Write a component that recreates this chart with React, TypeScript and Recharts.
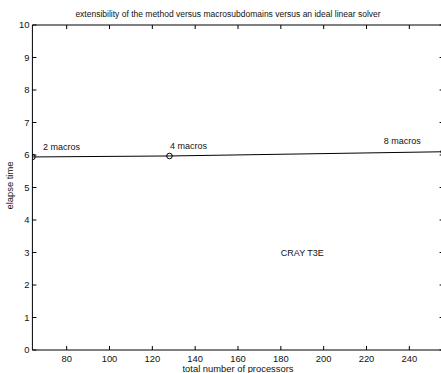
import { LineChart, Line, XAxis, YAxis, ReferenceDot } from 'recharts';

const processors = [64, 128, 256];
const elapseTime = [5.94, 5.97, 6.1];
const xTicks = [80, 100, 120, 140, 160, 180, 200, 220, 240];
const yTicks = [0, 1, 2, 3, 4, 5, 6, 7, 8, 9, 10];

// text annotations, in data coordinates (left edge / baseline)
const noteText = ['2 macros', '4 macros', '8 macros', 'CRAY T3E'];
const noteX = [69, 128.3, 228, 180];
const noteY = [6.14, 6.2, 6.34, 2.9];

const data = processors.map((p, i) => ({ p, t: elapseTime[i] }));

const FONT = '"Liberation Sans", Arial, sans-serif';
const FS = 9.4;
const TICK = 4;

// eslint-disable-next-line @typescript-eslint/no-explicit-any
const BottomTick = (props: any) => {
  const { x, y, payload } = props;
  return (
    <g>
      <line x1={x} y1={y} x2={x} y2={y - TICK} stroke="#000" />
      <text x={x} y={y + 12} textAnchor="middle" fontSize={FS} fontFamily={FONT} fill="#111">
        {payload.value}
      </text>
    </g>
  );
};

// eslint-disable-next-line @typescript-eslint/no-explicit-any
const TopTick = (props: any) => (
  <line x1={props.x} y1={props.y} x2={props.x} y2={props.y + TICK} stroke="#000" />
);

// eslint-disable-next-line @typescript-eslint/no-explicit-any
const LeftTick = (props: any) => {
  const { x, y, payload } = props;
  return (
    <g>
      <line x1={x} y1={y} x2={x + TICK} y2={y} stroke="#000" />
      <text x={x - 3} y={y} dy="0.35em" textAnchor="end" fontSize={FS} fontFamily={FONT} fill="#111">
        {payload.value}
      </text>
    </g>
  );
};

// eslint-disable-next-line @typescript-eslint/no-explicit-any
const RightTick = (props: any) => (
  <line x1={props.x - TICK} y1={props.y} x2={props.x} y2={props.y} stroke="#000" />
);

// eslint-disable-next-line @typescript-eslint/no-explicit-any
const Marker = (props: any) => {
  const { cx, cy, index } = props;
  return <circle key={index} cx={cx} cy={cy} r={2.8} fill="none" stroke="#000" strokeWidth={1} />;
};

export default function App() {
  return (
    <div style={{ position: 'absolute', left: 0, top: 0, width: 441, height: 373, overflow: 'hidden' }}>
      <LineChart
        width={460}
        height={373}
        data={data}
        margin={{ top: 24, right: 15.4, bottom: 3, left: 12.4 }}
      >
        <XAxis
          dataKey="p"
          type="number"
          domain={[64, 256]}
          ticks={xTicks}
          allowDataOverflow
          height={20}
          tickSize={0}
          tickMargin={0}
          tickLine={false}
          tick={<BottomTick />}
          axisLine={{ stroke: '#000' }}
          interval={0}
          label={{
            // eslint-disable-next-line @typescript-eslint/no-explicit-any
            content: (p: any) => (
              <text
                x={p.viewBox.x + p.viewBox.width / 2}
                y={p.viewBox.y + 22}
                textAnchor="middle"
                fontSize={FS}
                fontFamily={FONT}
                fill="#111"
              >
                total number of processors
              </text>
            ),
          }}
        />
        <XAxis
          xAxisId="top"
          orientation="top"
          dataKey="p"
          type="number"
          domain={[64, 256]}
          ticks={xTicks}
          allowDataOverflow
          height={1}
          tickSize={0}
          tickMargin={0}
          tickLine={false}
          tick={<TopTick />}
          axisLine={{ stroke: '#000' }}
          interval={0}
          label={{
            // eslint-disable-next-line @typescript-eslint/no-explicit-any
            content: (p: any) => (
              <text
                x={p.viewBox.x + p.viewBox.width / 2 - 10}
                y={p.viewBox.y - 7.5}
                textAnchor="middle"
                fontSize={8.5}
                fontFamily={FONT}
                fill="#111"
              >
                extensibility of the method versus macrosubdomains versus an ideal linear solver
              </text>
            ),
          }}
        />
        <YAxis
          type="number"
          domain={[0, 10]}
          ticks={yTicks}
          allowDataOverflow
          width={20}
          tickSize={0}
          tickMargin={0}
          tickLine={false}
          tick={<LeftTick />}
          axisLine={{ stroke: '#000' }}
          interval={0}
          label={{
            // eslint-disable-next-line @typescript-eslint/no-explicit-any
            content: (p: any) => {
              const cx = p.viewBox.x + 1;
              const cy = p.viewBox.y + p.viewBox.height / 2 - 2;
              return (
                <text
                  x={cx}
                  y={cy}
                  transform={`rotate(-90 ${cx} ${cy})`}
                  textAnchor="middle"
                  fontSize={FS}
                  fontFamily={FONT}
                  fill="#111"
                >
                  elapse time
                </text>
              );
            },
          }}
        />
        <YAxis
          yAxisId="right"
          orientation="right"
          type="number"
          domain={[0, 10]}
          ticks={yTicks}
          allowDataOverflow
          width={1}
          tickSize={0}
          tickMargin={0}
          tickLine={false}
          tick={<RightTick />}
          axisLine={{ stroke: '#000' }}
          interval={0}
        />
        <Line
          type="linear"
          dataKey="t"
          stroke="#000"
          strokeWidth={1}
          dot={<Marker />}
          activeDot={false}
          isAnimationActive={false}
        />
        {noteText.map((txt, i) => (
          <ReferenceDot
            key={txt}
            x={noteX[i]}
            y={noteY[i]}
            r={1}
            fill="none"
            stroke="none"
            label={{
              // eslint-disable-next-line @typescript-eslint/no-explicit-any
              content: (p: any) => (
                <text
                  x={p.viewBox.x + p.viewBox.width / 2}
                  y={p.viewBox.y + p.viewBox.height / 2}
                  textAnchor="start"
                  fontSize={9}
                  fontFamily={FONT}
                  fill="#111"
                >
                  {txt}
                </text>
              ),
            }}
          />
        ))}
      </LineChart>
    </div>
  );
}
